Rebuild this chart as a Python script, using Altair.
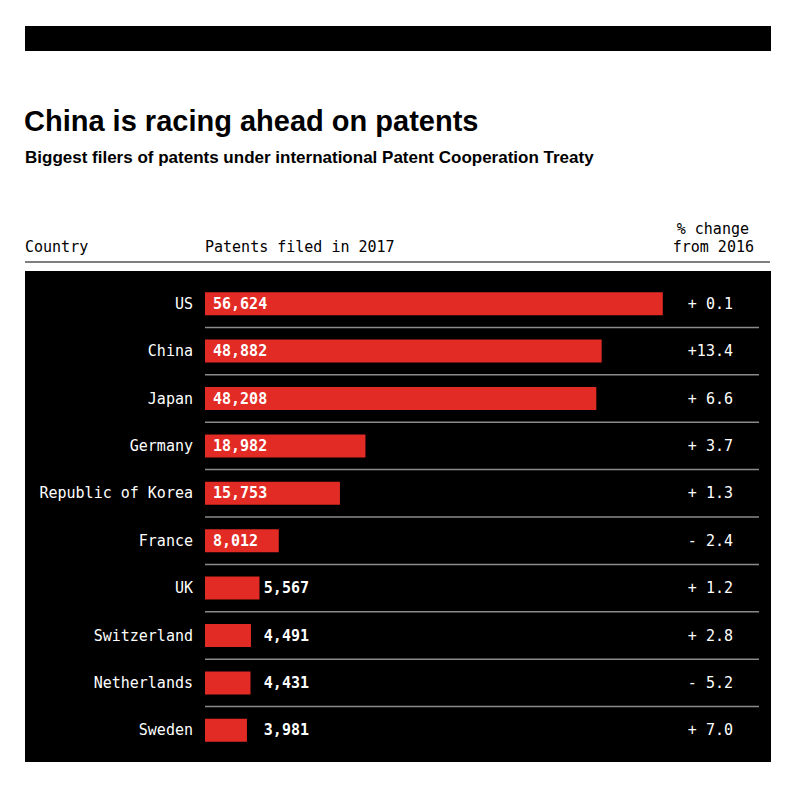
import altair as alt
import pandas as pd

# ---- data ----
countries = ["US", "China", "Japan", "Germany", "Republic of Korea", "France",
             "UK", "Switzerland", "Netherlands", "Sweden"]
patents = [56624, 48882, 48208, 18982, 15753, 8012, 5567, 4491, 4431, 3981]
change = [0.1, 13.4, 6.6, 3.7, 1.3, -2.4, 1.2, 2.8, -5.2, 7.0]

TITLE = "China is racing ahead on patents"
SUBTITLE = "Biggest filers of patents under international Patent Cooperation Treaty"
HEAD_COUNTRY = "Country"
HEAD_PATENTS = "Patents filed in 2017"
HEAD_CHANGE = ["% change", "from 2016"]

df = pd.DataFrame({"country": countries, "patents": patents, "change": change})
df["change_label"] = [("+" if c >= 0 else "-") + f"{abs(c):4.1f}" for c in change]
df["inside"] = df["patents"] >= 8000

one = pd.DataFrame({"a": [0]})

RED = "#e32b25"
MONO = "DejaVu Sans Mono"
SANS = "Liberation Sans"
FS = 15

PI = 0.5148  # band = 23 px of a 47.4 px row
xs = alt.Scale(domain=[0, max(patents)], range=[215.5, 662.8])
ys = alt.Scale(domain=countries, range=[280, 754], paddingInner=PI, paddingOuter=PI / 2)
X = alt.X("patents:Q", scale=xs, axis=None)
Y = alt.Y("country:N", scale=ys, sort=countries, axis=None)

base = alt.Chart(df)

top_bar = alt.Chart(one).mark_rect(color="black").encode(
    x=alt.value(25), x2=alt.value(771), y=alt.value(26), y2=alt.value(51))
panel = alt.Chart(one).mark_rect(color="black").encode(
    x=alt.value(25), x2=alt.value(771), y=alt.value(271), y2=alt.value(762))
head_line = alt.Chart(one).mark_rule(color="#555555", strokeWidth=1.5).encode(
    x=alt.value(25), x2=alt.value(770), y=alt.value(262))

title = alt.Chart(one).mark_text(
    text=TITLE, font=SANS, fontSize=29, fontWeight="bold", align="left",
    baseline="alphabetic", color="black").encode(x=alt.value(24), y=alt.value(131))
subtitle = alt.Chart(one).mark_text(
    text=SUBTITLE, font=SANS, fontSize=17, fontWeight="bold", align="left",
    baseline="alphabetic", color="black").encode(x=alt.value(25), y=alt.value(163))

h_country = alt.Chart(one).mark_text(
    text=HEAD_COUNTRY, font=MONO, fontSize=FS, align="left", baseline="alphabetic",
    color="black").encode(x=alt.value(25), y=alt.value(252))
h_patents = alt.Chart(one).mark_text(
    text=HEAD_PATENTS, font=MONO, fontSize=FS, align="left", baseline="alphabetic",
    color="black").encode(x=alt.value(205), y=alt.value(252))
h_change1 = alt.Chart(one).mark_text(
    text=HEAD_CHANGE[0], font=MONO, fontSize=FS, align="right", baseline="alphabetic",
    color="black").encode(x=alt.value(749), y=alt.value(234))
h_change2 = alt.Chart(one).mark_text(
    text=HEAD_CHANGE[1], font=MONO, fontSize=FS, align="right", baseline="alphabetic",
    color="black").encode(x=alt.value(754), y=alt.value(252))

separators = base.transform_filter(alt.datum.country != countries[0]).mark_rule(
    color="#8a8a8a", strokeWidth=1.5, yOffset=-23.7).encode(
    x=alt.value(205), x2=alt.value(759), y=Y)

bars = base.mark_rect(color=RED).encode(x=X, x2=alt.value(205), y=Y)

country_txt = base.mark_text(
    font=MONO, fontSize=FS, align="right", baseline="middle", color="white").encode(
    x=alt.value(193), y=Y, text="country:N")

val_in = base.transform_filter(alt.datum.inside).mark_text(
    font=MONO, fontSize=FS, fontWeight="bold", align="left", baseline="middle",
    color="white").encode(x=alt.value(213), y=Y, text=alt.Text("patents:Q", format=","))
val_out = base.transform_filter(~alt.datum.inside).mark_text(
    font=MONO, fontSize=FS, fontWeight="bold", align="right", baseline="middle",
    color="white").encode(x=alt.value(309), y=Y, text=alt.Text("patents:Q", format=","))

chg_txt = base.mark_text(
    font=MONO, fontSize=FS, align="right", baseline="middle", color="white").encode(
    x=alt.value(733), y=Y, text="change_label:N")

chart = alt.layer(
    top_bar, panel, head_line, title, subtitle, h_country, h_patents, h_change1, h_change2,
    separators, bars, country_txt, val_in, val_out, chg_txt
).properties(
    width=800, height=785, padding=0, autosize=alt.AutoSizeParams(type="none"),
    background="white"
).configure_view(stroke=None)

chart.save("out.html", embed_options={"renderer": "svg", "actions": False})
